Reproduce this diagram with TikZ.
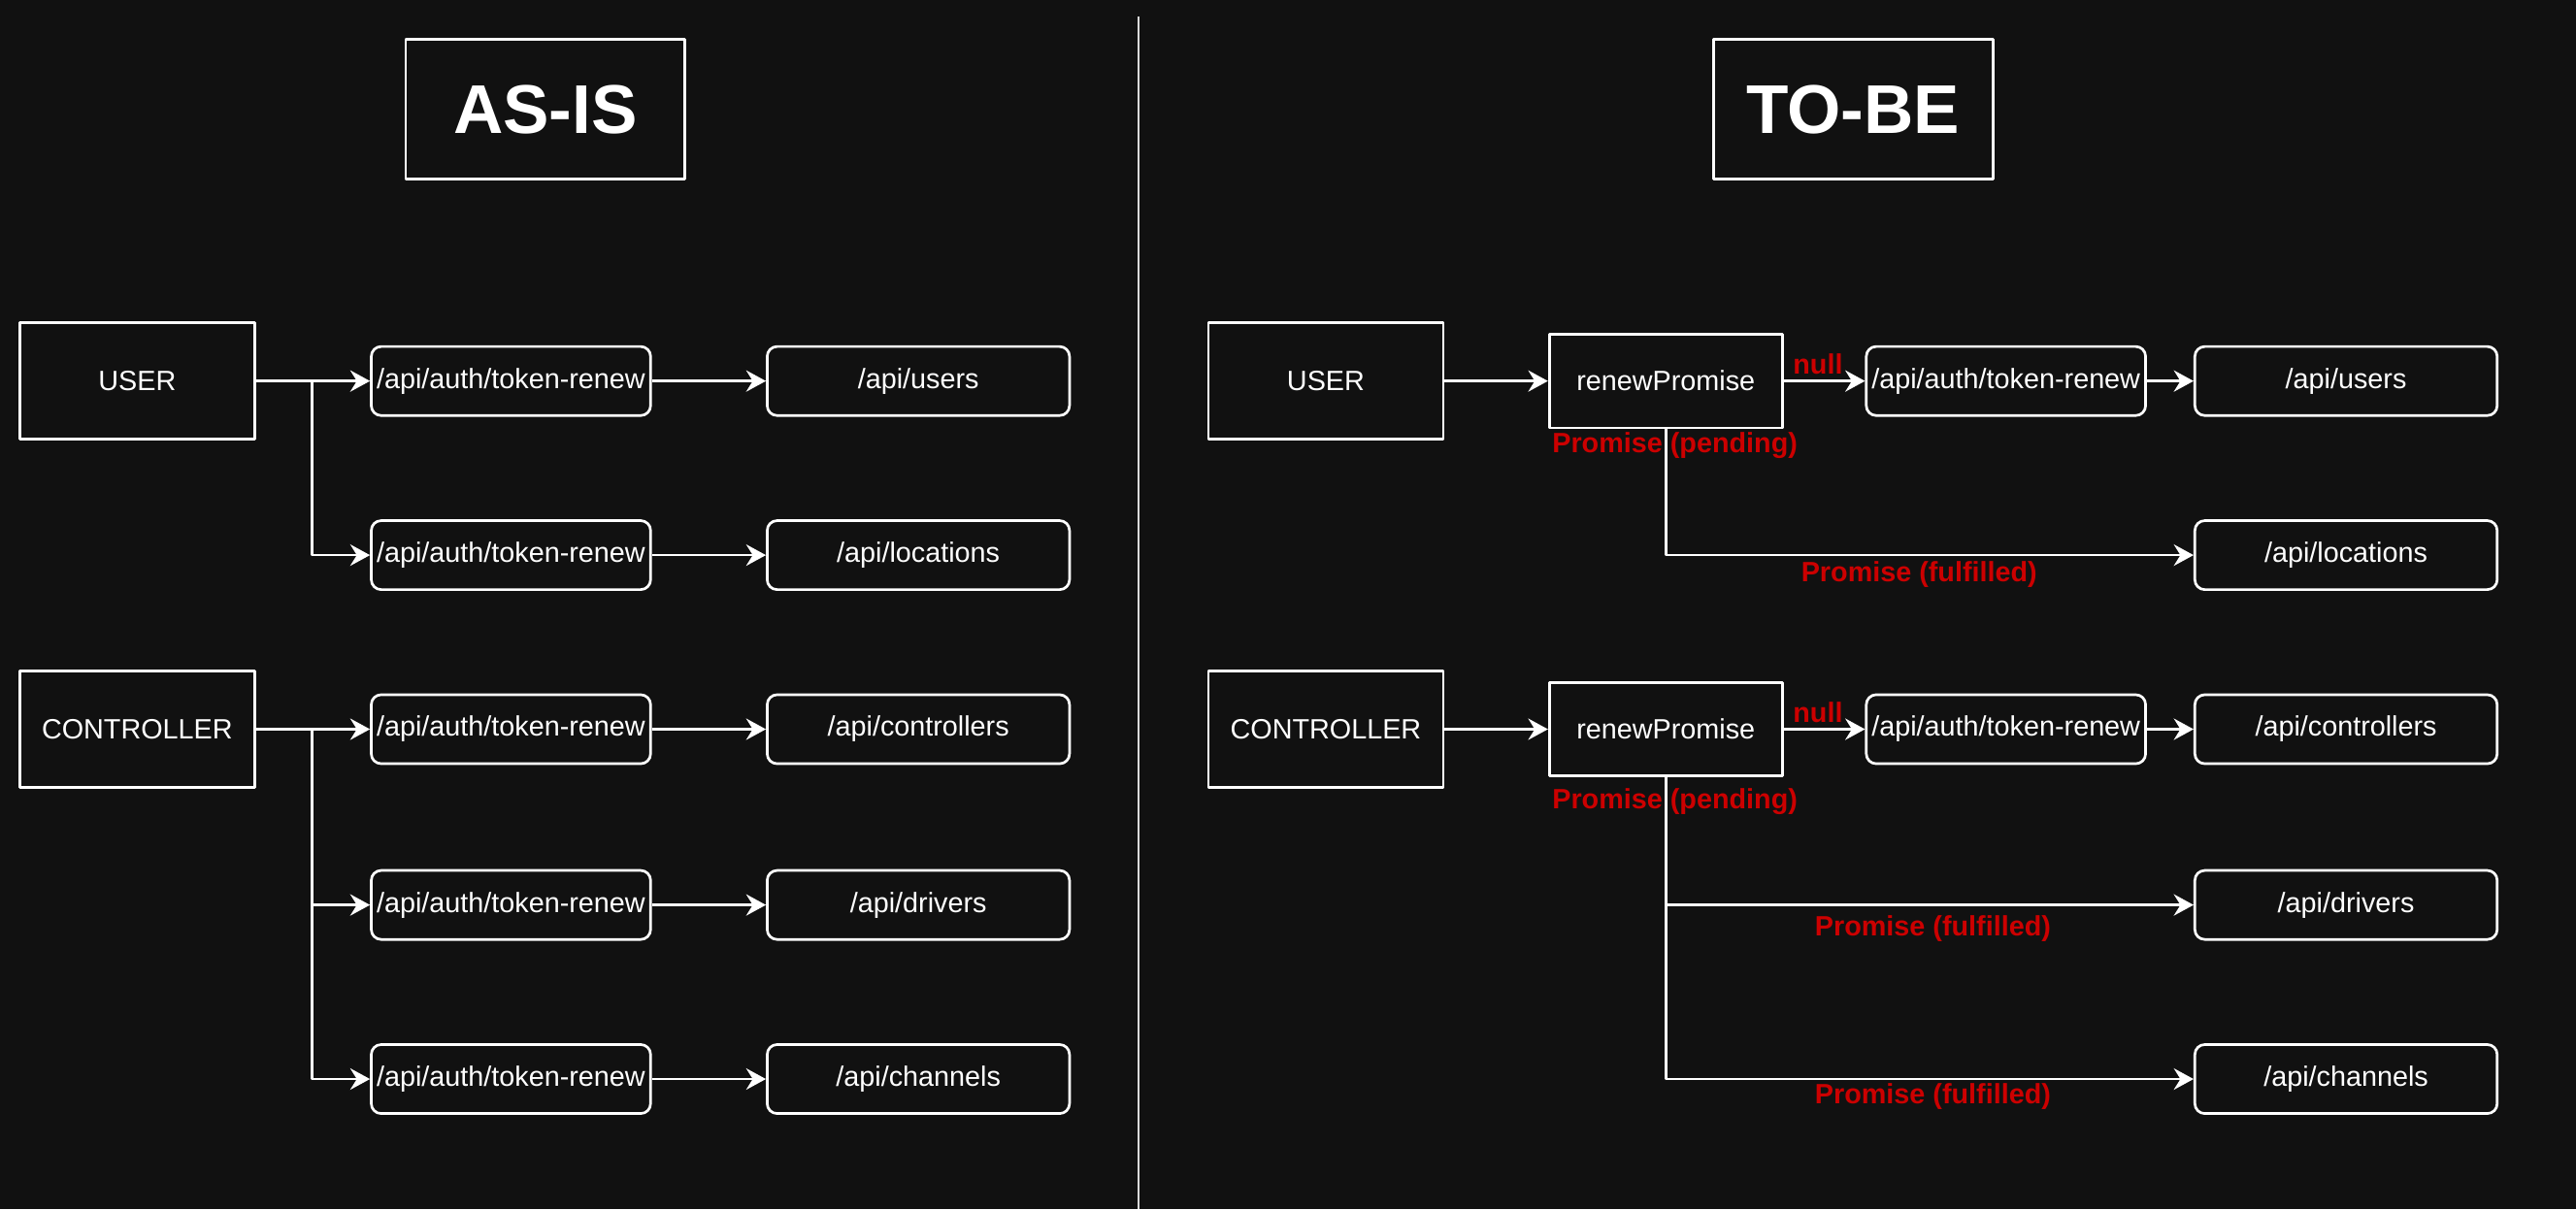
\documentclass[tikz,border=0pt]{standalone}
\usepackage{fontspec}
\setmainfont{Liberation Sans}
\usetikzlibrary{arrows.meta}
\definecolor{bg}{HTML}{111111}
\definecolor{lblred}{HTML}{CC0000}
\begin{document}
\begin{tikzpicture}[line join=round, >={Stealth[length=6pt,width=6.5pt,inset=2pt]}, x=0.5pt, y=-0.5pt, white, line width=0.8pt]
	\tikzset{every node/.style={font=\fontsize{8.5}{10}\selectfont, text=white, inner sep=0pt},
		titlebox/.style={draw, fill=bg, minimum width=85pt, minimum height=42.5pt, font=\fontsize{21}{25}\selectfont\bfseries},
		actor/.style={draw, fill=bg, minimum width=71.5pt, minimum height=35.5pt},
		renew/.style={draw, fill=bg, rounded corners=3pt, minimum width=85pt, minimum height=21pt},
		api/.style={draw, fill=bg, rounded corners=3pt, minimum width=92pt, minimum height=21pt},
		promise/.style={draw, fill=bg, minimum width=71pt, minimum height=28.5pt},
		redlbl/.style={text=lblred, font=\fontsize{8.5}{10}\selectfont\bfseries}}
	\fill[bg] (0,0) rectangle (1568,736);
	\node[titlebox] (asis) at (332,66.5) {AS-IS};
	\node[titlebox] (tobe) at (1128,66.5) {TO-BE};
	\draw[line width=0.6pt, white!85!bg] (693,10)--(693,736);
	% AS-IS
	\node[actor] (userL) at (83.5,232) {USER};
	\node[actor] (ctrlL) at (83.5,444) {CONTROLLER};
	\foreach \i/\y/\api in {1/232/users,2/338/locations,3/444/controllers,4/551/drivers,5/657/channels}{
		\node[renew] (tokL\i) at (311,\y) {/api/auth/token-renew};
		\node[api] (apiL\i) at (559,\y) {/api/\api};
		\draw[->] (tokL\i)--(apiL\i);
	}
	\coordinate (brU) at (190,232);
	\coordinate (brC) at (190,444);
	\draw[->] (userL)--(tokL1);
	\draw[->] (brU) |- (tokL2);
	\draw[->] (ctrlL)--(tokL3);
	\foreach \i in {4,5}
	\draw[->] (brC) |- (tokL\i);
	% TO-BE
	\node[actor] (userR) at (807,232) {USER};
	\node[actor] (ctrlR) at (807,444) {CONTROLLER};
	\node[promise] (promU) at (1014,232) {renewPromise};
	\node[promise] (promC) at (1014,444) {renewPromise};
	\node[renew] (tokRU) at (1221,232) {/api/auth/token-renew};
	\node[renew] (tokRC) at (1221,444) {/api/auth/token-renew};
	\foreach \i/\y/\api in {1/232/users,2/338/locations,3/444/controllers,4/551/drivers,5/657/channels}
	\node[api] (apiR\i) at (1428,\y) {/api/\api};
	\draw[->] (userR)--(promU);
	\draw[->] (ctrlR)--(promC);
	\draw[->] (promU)--node[redlbl, above=1.5pt, pos=0.42] (nullU) {null} (tokRU);
	\draw[->] (promC)--node[redlbl, above=1.5pt, pos=0.42] (nullC) {null} (tokRC);
	\draw[->] (tokRU)--(apiR1);
	\draw[->] (tokRC)--(apiR3);
	\draw[->] (promU.south) |- node[redlbl, pos=0.74, below=1.5pt] (fulU) {Promise (fulfilled)} (apiR2);
	\draw[->] (promC.south) |- node[redlbl, pos=0.753, below=3pt] (fulC1) {Promise (fulfilled)} (apiR4);
	\draw[->] (promC.south) |- node[redlbl, pos=0.753, below=1pt] (fulC2) {Promise (fulfilled)} (apiR5);
	\node[redlbl] (pendU) at (1019.5,271) {Promise (pending)};
	\node[redlbl] (pendC) at (1019.5,488) {Promise (pending)};
\end{tikzpicture}
\end{document}
